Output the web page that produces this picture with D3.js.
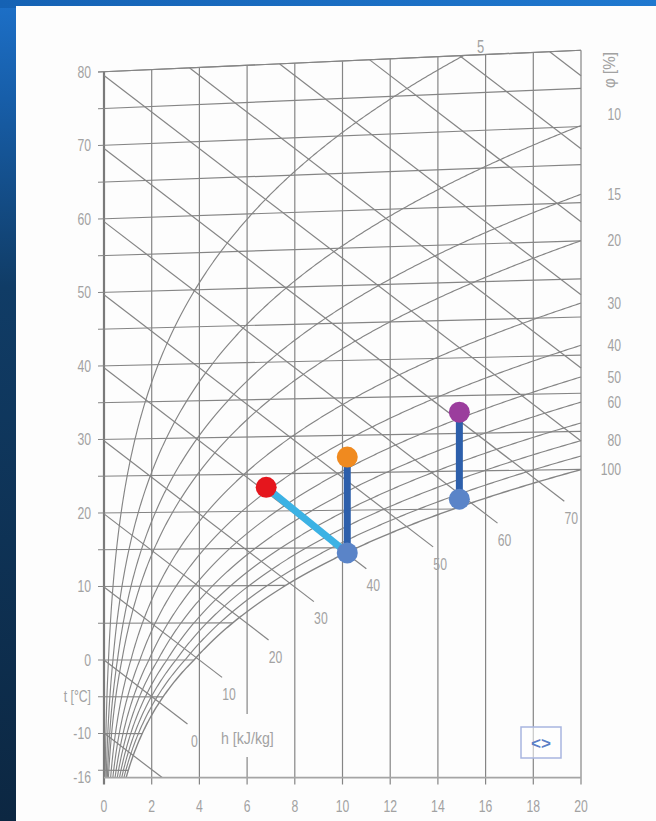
<!DOCTYPE html>
<html>
<head>
<meta charset="utf-8">
<script src="https://cdn.jsdelivr.net/npm/d3@7"></script>
<style>
  html, body { margin: 0; padding: 0; background: #0d2b4a; }
  svg { display: block; }
  text { font-family: "Liberation Sans", Arial, sans-serif; }
</style>
</head>
<body>
<svg id="chart" width="656" height="821"></svg>
<script>
// ---- chart data ----------------------------------------------------------
// humidity ratio axis, g/kg
const xTicks = [0, 2, 4, 6, 8, 10, 12, 14, 16, 18, 20];
// isotherms drawn every 5 °C, plus the -16 °C floor of the diagram
const isotherms = [80, 75, 70, 65, 60, 55, 50, 45, 40, 35, 30, 25, 20, 15, 10, 5, 0, -5, -10, -15];
const tMin = -16;
const tMax = 80;
const tLabelValues = [80, 70, 60, 50, 40, 30, 20, 10, 0, -5, -10, -16];
const tLabelTexts = ["80", "70", "60", "50", "40", "30", "20", "10", "0", "t [°C]", "-10", "-16"];
// relative humidity curves, %
const rhCurves = [5, 10, 15, 20, 30, 40, 50, 60, 70, 80, 90, 100];
const rhLabels = [5, 10, 15, 20, 30, 40, 50, 60, 80, 100];
// enthalpy lines, kJ/kg
const enthalpyLines = [-10, 0, 10, 20, 30, 40, 50, 60, 70, 80, 90, 100, 110, 120, 130];
const enthalpyLabelled = [0, 10, 20, 30, 40, 50, 60, 70];
// humidity ratio (g/kg) where the labelled enthalpy lines stop, below saturation
const enthalpyEndX = [3.5, 4.95, 6.9, 8.8, 11.0, 13.8, 16.5, 19.3];
// air states: humidity ratio (g/kg) and temperature (°C)
const stateNames = ["A", "B", "C", "D", "E"];
const stateX = [6.8, 10.2, 10.2, 14.9, 14.9];
const stateT = [23.2, 27.1, 14.3, 32.8, 21.3];
const stateColors = ["#e5161d", "#f08a1f", "#5a84c8", "#9b3d9d", "#5a84c8"];
// processes between states
const processFrom = ["A", "B", "D"];
const processTo = ["C", "C", "E"];
const processColors = ["#3cb2e4", "#2d5fab", "#2d5fab"];

// ---- psychrometric relations --------------------------------------------
const P = 101325; // Pa
function pSat(t) {
  return t >= 0 ? 611.2 * Math.exp(17.62 * t / (243.12 + t))
                : 611.2 * Math.exp(22.46 * t / (272.62 + t));
}
function humidityRatio(t, phi) {
  const pv = phi * pSat(t);
  return 622 * pv / (P - pv);
}
// Mollier ordinate: h - r0*x  (kJ/kg, x in g/kg)
const R0 = 2.501;
function skew(xg, t) { return 1.006 * t + 0.00186 * t * xg; }

// ---- layout ----------------------------------------------------------------
const W = 656, H = 821;
const svg = d3.select("#chart");
const x = d3.scaleLinear().domain([0, 20]).range([104, 581]);
const y = d3.scaleLinear().domain([0, skew(0, tMax)]).range([660, 72]);
const yFloor = y(skew(0, tMin));

// frame
const defs = svg.append("defs");
const grad = defs.append("linearGradient").attr("id", "frame")
  .attr("x1", 0).attr("y1", 0).attr("x2", 0).attr("y2", 1);
[["0%", "#1d70c8"], ["12%", "#175ea9"], ["35%", "#103c66"], ["100%", "#0c2742"]]
  .forEach(([o, c]) => grad.append("stop").attr("offset", o).attr("stop-color", c));
const topGrad = defs.append("linearGradient").attr("id", "frameTop")
  .attr("x1", 0).attr("y1", 0).attr("x2", 1).attr("y2", 0);
[["0%", "#1562b4"], ["100%", "#1f78cf"]]
  .forEach(([o, c]) => topGrad.append("stop").attr("offset", o).attr("stop-color", c));
svg.append("rect").attr("width", W).attr("height", H).attr("fill", "url(#frame)");
svg.append("rect").attr("width", W).attr("height", 8).attr("fill", "url(#frameTop)");
svg.append("rect").attr("x", 16).attr("y", 6).attr("width", W - 16).attr("height", H - 6).attr("fill", "#fdfdfd");

const gridColor = "#858585";
const labelColor = "#a2a2a2";
const grid = svg.append("g").attr("fill", "none").attr("stroke", gridColor).attr("stroke-width", 1.2);
const line = d3.line().x(d => d[0]).y(d => d[1]);

// floor line with ticks
svg.append("line").attr("x1", x(0)).attr("x2", x(20)).attr("y1", yFloor).attr("y2", yFloor)
  .attr("stroke", "#a5a5a5").attr("stroke-width", 1.6);

// vertical humidity-ratio lines
xTicks.forEach(v => {
  grid.append("line")
    .attr("x1", x(v)).attr("x2", x(v))
    .attr("y1", yFloor + 7).attr("y2", y(skew(v, tMax)))
    .attr("stroke-width", v === 0 ? 2.2 : 1.2)
    .attr("stroke", v === 0 ? "#7a7a7a" : gridColor);
});

// isotherms, stopping at saturation
isotherms.concat([tMax]).forEach(t => {
  const xEnd = Math.min(20, humidityRatio(t, 1));
  grid.append("line")
    .attr("x1", x(0) - 6).attr("y1", y(skew(0, t)))
    .attr("x2", x(xEnd)).attr("y2", y(skew(xEnd, t)));
});

// enthalpy lines
const topSlope = 0.00186 * tMax;
enthalpyLines.forEach(h => {
  const x0 = Math.max(0, (h - skew(0, tMax)) / (R0 + topSlope));
  const li = enthalpyLabelled.indexOf(h);
  const x1 = li >= 0 ? enthalpyEndX[li] : Math.min(20, (h - skew(0, tMin)) / R0);
  grid.append("path").attr("d", line([
    [x(x0), y(h - R0 * x0)],
    [x(x1), y(h - R0 * x1)]
  ]));
});

// relative humidity curves
const rhEnds = {};
rhCurves.forEach(rh => {
  const phi = rh / 100;
  const pts = [];
  let last = null;
  for (let t = tMin; t <= tMax + 1e-9; t += 0.1) {
    const xv = humidityRatio(t, phi);
    if (xv > 20) {
      // close the curve on the right edge
      const [tp, xp] = last;
      const f = (20 - xp) / (xv - xp);
      const te = tp + f * (t - tp);
      pts.push([x(20), y(skew(20, te))]);
      last = [te, 20];
      break;
    }
    pts.push([x(xv), y(skew(xv, t))]);
    last = [t, xv];
  }
  rhEnds[rh] = { px: pts[pts.length - 1][0], py: pts[pts.length - 1][1], top: last[1] < 20 };
  grid.append("path").attr("d", line(pts)).attr("stroke-width", rh === 100 ? 1.4 : 1.15);
});

// ---- labels ----------------------------------------------------------------
const labels = svg.append("g").attr("fill", labelColor).attr("font-size", 16.5);
// narrow lettering: horizontally compressed text
function label(px, py, txt, anchor, extra, sx) {
  return labels.append("text")
    .attr("transform", `translate(${px},${py}) ${extra || ""} scale(${sx || 0.74},1)`)
    .attr("text-anchor", anchor).attr("dominant-baseline", "central")
    .text(txt);
}

tLabelValues.forEach((t, i) => label(91, y(skew(0, t)), tLabelTexts[i], "end"));

xTicks.forEach(v => label(x(v), yFloor + 29, v, "middle"));

const rhLabelShift = { 10: -11 };
rhLabels.forEach(rh => {
  const e = rhEnds[rh];
  if (e.top) {
    label(e.px + 17, e.py - 9, rh, "middle").attr("font-size", 17.5);
  } else {
    label(621, e.py + (rhLabelShift[rh] || 0), rh, "end");
  }
});

// relative humidity title, reading upwards
label(609, 70, "φ  [%]", "middle", "rotate(-90)", 0.95).attr("font-size", 16);

// enthalpy labels at the line ends
enthalpyLabelled.forEach((h, i) => {
  const xe = enthalpyEndX[i];
  label(x(xe) + 7, y(h - R0 * xe) + 17, h, "middle");
});
labels.append("rect").attr("x", 217).attr("y", 714).attr("width", 72).attr("height", 43).attr("fill", "#fdfdfd");
label(221, 738, "h [kJ/kg]", "start", "", 0.86);

// ---- processes and states ---------------------------------------------------
const statePos = {};
stateNames.forEach((n, i) => {
  statePos[n] = [x(stateX[i]), y(skew(stateX[i], stateT[i]))];
});
processFrom.forEach((a, i) => {
  svg.append("path")
    .attr("d", line([statePos[a], statePos[processTo[i]]]))
    .attr("stroke", processColors[i]).attr("stroke-width", 7).attr("fill", "none");
});
stateNames.forEach((n, i) => {
  svg.append("circle")
    .attr("cx", statePos[n][0]).attr("cy", statePos[n][1]).attr("r", 10.5)
    .attr("fill", stateColors[i]);
});

// toggle badge
const badge = svg.append("g");
badge.append("rect").attr("x", 521).attr("y", 727).attr("width", 40).attr("height", 31)
  .attr("fill", "rgba(255,255,255,0.55)").attr("stroke", "#a8b5df").attr("stroke-width", 1.5);
badge.append("text").attr("x", 541).attr("y", 743)
  .attr("text-anchor", "middle").attr("dominant-baseline", "central")
  .attr("font-family", "DejaVu Sans, sans-serif").attr("font-weight", "bold")
  .attr("font-size", 17).attr("fill", "#5b7fc6")
  .text("<>");
</script>
</body>
</html>
